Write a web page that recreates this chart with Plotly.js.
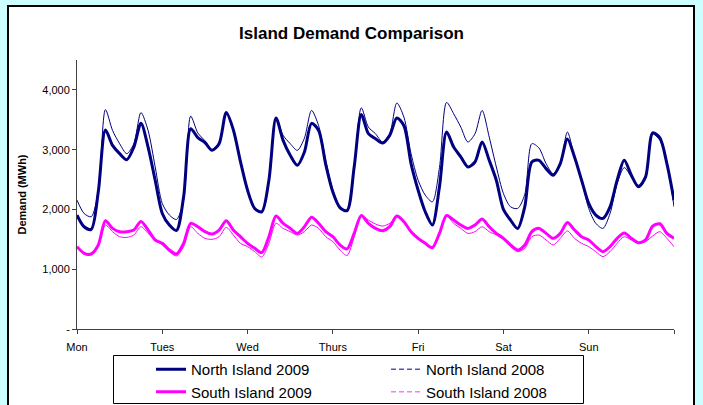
<!DOCTYPE html>
<html>
<head>
<meta charset="utf-8">
<script src="https://cdn.plot.ly/plotly-3.0.1.min.js"></script>
<style>
html,body{margin:0;padding:0;background:#ccffff;}
#chart{width:703px;height:405px;}
</style>
</head>
<body>
<div id="chart"></div>
<script>
// Hours since Monday 00:00, every 2 hours across one week
var hours = [];
for (var h = 0; h <= 168; h += 2) hours.push(h);

var dayTickVals = [0, 24, 48, 72, 96, 120, 144, 168];
var dayTickText = ['Mon', 'Tues', 'Wed', 'Thurs', 'Fri', 'Sat', 'Sun', ''];

var demandTickVals = [0, 1000, 2000, 3000, 4000];
var demandTickText = ['-', '1,000', '2,000', '3,000', '4,000'];

var northIsland2009 = [
  1906,1711,1667,2300,3330,3072,2933,2833,3044,3440,3044,2489,
  1933,1739,1650,2211,3350,3200,3120,2990,3100,3620,3330,2800,
  2320,2017,1961,2489,3530,3155,2906,2739,2961,3440,3322,2750,
  2290,2030,1980,2711,3590,3267,3183,3111,3239,3530,3400,2767,
  2322,1961,1740,2378,3294,3044,2878,2711,2794,3130,2822,2489,
  2000,1822,1680,2044,2794,2822,2683,2572,2767,3180,2878,2489,
  2100,1906,1850,2044,2489,2822,2572,2380,2544,3280,3200,2767,
  2156];

var northIsland2008 = [
  2156,1933,1878,2322,3670,3322,3100,2933,3100,3620,3322,2711,
  2100,1906,1833,2156,3560,3280,3150,3000,3130,3620,3330,2800,
  2320,2017,1961,2489,3530,3240,3100,2989,3194,3656,3400,2822,
  2322,2044,1989,2711,3700,3378,3267,3128,3267,3780,3544,2933,
  2489,2239,2128,2700,3790,3600,3378,3128,3267,3656,3211,2711,
  2267,2044,2017,2250,3100,3028,2767,2600,2767,3294,2878,2489,
  2017,1767,1683,1933,2433,2700,2544,2406,2544,3260,3156,2800,
  2044];

var southIsland2009 = [
  1378,1267,1256,1406,1810,1683,1628,1628,1656,1800,1656,1489,
  1433,1322,1256,1433,1767,1711,1628,1589,1656,1810,1656,1544,
  1433,1350,1278,1544,1890,1767,1683,1600,1711,1870,1767,1628,
  1544,1406,1340,1600,1900,1767,1683,1644,1711,1890,1794,1628,
  1517,1433,1360,1600,1900,1822,1739,1683,1739,1840,1711,1600,
  1517,1406,1322,1406,1628,1683,1600,1517,1600,1780,1656,1544,
  1489,1378,1294,1378,1517,1605,1517,1444,1489,1720,1760,1600,
  1517];

var southIsland2008 = [
  1378,1256,1239,1389,1739,1628,1544,1533,1572,1711,1600,1489,
  1406,1294,1222,1378,1711,1600,1517,1500,1544,1700,1572,1433,
  1378,1294,1205,1433,1767,1683,1628,1572,1628,1739,1683,1544,
  1461,1322,1230,1544,1889,1822,1756,1722,1767,1878,1794,1628,
  1500,1433,1378,1600,1890,1767,1683,1600,1628,1711,1628,1572,
  1500,1378,1294,1350,1544,1572,1489,1406,1517,1640,1517,1433,
  1378,1294,1211,1294,1433,1544,1489,1433,1461,1556,1628,1517,
  1378];

var NAVY = '#000080';
var MAGENTA = '#ff00ff';
var FONT = 'Liberation Sans, Arial, sans-serif';

// plot area in pixels: x 77..674, y 60..329
var PL = 77, PR = 674, PT = 60, PB = 329;
function px(xp) { return (xp - PL) / (PR - PL); }
function py(yp) { return (PB - yp) / (PB - PT); }

function lineTrace(name, y, color, width, showLegend, rank) {
  return {
    type: 'scatter', mode: 'lines', name: name,
    x: hours, y: y,
    line: {color: color, width: width, shape: 'spline', smoothing: 0.8},
    showlegend: showLegend, legendrank: rank, hoverinfo: 'skip'
  };
}
function legendOnly(name, color, rank) {
  return {
    type: 'scatter', mode: 'lines', name: name,
    x: [null], y: [null],
    line: {color: color, width: 1.3, dash: '5px,3px'},
    showlegend: true, legendrank: rank, hoverinfo: 'skip'
  };
}

var data = [
  lineTrace('North Island 2008', northIsland2008, NAVY, 1, false, 2),
  lineTrace('South Island 2008', southIsland2008, MAGENTA, 1, false, 4),
  lineTrace('North Island 2009', northIsland2009, NAVY, 3, true, 1),
  lineTrace('South Island 2009', southIsland2009, MAGENTA, 3, true, 3),
  legendOnly('North Island 2008', '#5555bb', 2),
  legendOnly('South Island 2008', '#ff77ff', 4)
];

var layout = {
  width: 703, height: 405,
  margin: {l: PL, r: 703 - PR, t: PT, b: 405 - PB, autoexpand: false},
  paper_bgcolor: '#ccffff',
  plot_bgcolor: 'rgba(0,0,0,0)',
  font: {family: FONT, size: 11, color: '#000'},
  title: {
    text: '<b>Island Demand Comparison</b>',
    font: {family: FONT, size: 17, color: '#000'},
    x: 0.5, xref: 'container', xanchor: 'center',
    y: 1 - 33 / 405, yref: 'container', yanchor: 'middle'
  },
  xaxis: {
    range: [0, 168], fixedrange: true,
    tickmode: 'array', tickvals: dayTickVals, ticktext: dayTickText,
    ticks: 'outside', ticklen: 4, tickcolor: '#404040', tickwidth: 1,
    showline: true, linecolor: '#404040', linewidth: 1,
    showgrid: false, zeroline: false, ticklabelstandoff: 4,
    tickfont: {family: FONT, size: 11, color: '#000'}
  },
  yaxis: {
    range: [0, 4500], fixedrange: true,
    tickmode: 'array', tickvals: demandTickVals, ticktext: demandTickText,
    ticks: 'outside', ticklen: 4, tickcolor: '#404040', tickwidth: 1,
    showline: true, linecolor: '#404040', linewidth: 1,
    showgrid: false, zeroline: false,
    tickfont: {family: FONT, size: 11, color: '#000'},
    title: {text: '<b>Demand (MWh)</b>', font: {family: FONT, size: 11, color: '#000'}, standoff: 13}
  },
  legend: {
    orientation: 'h',
    x: px(151), xanchor: 'left',
    y: py(353), yanchor: 'top',
    bgcolor: 'rgba(0,0,0,0)', borderwidth: 0,
    font: {family: FONT, size: 15, color: '#000'},
    entrywidth: 190, entrywidthmode: 'pixels',
    traceorder: 'normal'
  },
  shapes: [
    {
      type: 'rect', xref: 'paper', yref: 'paper', layer: 'below',
      x0: px(8), x1: px(694), y0: py(420), y1: py(6),
      fillcolor: '#ffffff', line: {color: '#000', width: 2}
    },
    {
      type: 'rect', xref: 'paper', yref: 'paper', layer: 'below',
      x0: px(113.5), x1: px(583.5), y0: py(403.5), y1: py(355.5),
      fillcolor: 'rgba(0,0,0,0)', line: {color: '#000', width: 1}
    }
  ],
  showlegend: true
};

Plotly.newPlot('chart', data, layout, {staticPlot: true, displayModeBar: false});
</script>
</body>
</html>
